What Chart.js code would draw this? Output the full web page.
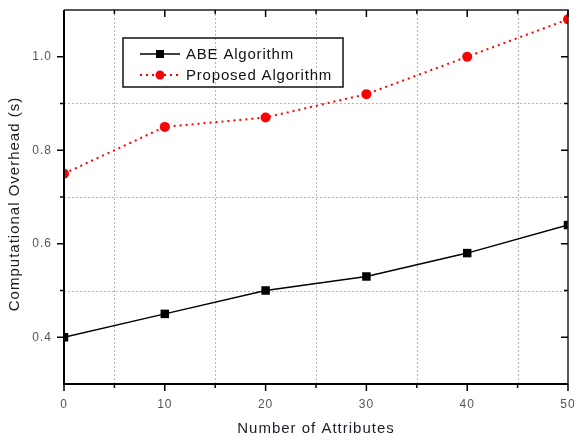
<!DOCTYPE html>
<html><head><meta charset="utf-8">
<script src="https://cdn.jsdelivr.net/npm/chart.js@4/dist/chart.umd.min.js"></script>
<style>html,body{margin:0;padding:0;background:#fff;}#wrap{width:574px;height:441px;}</style>
</head><body><div id="wrap"><canvas id="c" width="574" height="441"></canvas></div>
<script>
const attributes = [0, 10, 20, 30, 40, 50];
const abeValues = [0.40, 0.45, 0.50, 0.53, 0.58, 0.64];
const proposedValues = [0.75, 0.85, 0.87, 0.92, 1.00, 1.08];
const seriesNames = ['ABE Algorithm', 'Proposed Algorithm'];
const xTickLabels = ['0', '10', '20', '30', '40', '50'];
const yTickLabels = ['0.4', '0.6', '0.8', '1.0'];
const xTitle = 'Number of Attributes';
const yTitle = 'Computational Overhead (s)';

const FONT = 'Liberation Sans, Arial, sans-serif';

function setSpacing(ctx, v) { try { ctx.letterSpacing = v; } catch (e) {} }

const framePlugin = {
  id: 'frame',
  beforeDraw(chart) { setSpacing(chart.ctx, '1px'); },
  beforeDatasetsDraw(chart) {
    const {ctx, chartArea: a, scales: {x, y}} = chart;
    ctx.save();
    ctx.strokeStyle = '#b5b5b5';
    ctx.lineWidth = 1;
    ctx.setLineDash([2, 2]);
    x.ticks.forEach(t => {
      if (t.value % 10 !== 0) {
        const px = Math.round(x.getPixelForValue(t.value)) + 0.5;
        ctx.beginPath(); ctx.moveTo(px, a.top); ctx.lineTo(px, a.bottom); ctx.stroke();
      }
    });
    y.ticks.forEach(t => {
      const k = Math.round(t.value * 10);
      if (k % 2 === 1 && k > 3 && k < 11) {
        const py = Math.round(y.getPixelForValue(t.value)) + 0.5;
        ctx.beginPath(); ctx.moveTo(a.left, py); ctx.lineTo(a.right, py); ctx.stroke();
      }
    });
    ctx.restore();
  },
  afterDraw(chart) {
    const {ctx, chartArea: a, scales: {x, y}} = chart;
    ctx.save();
    ctx.setLineDash([]);
    ctx.strokeStyle = '#222';
    // frame
    ctx.lineWidth = 1.5;
    ctx.beginPath();
    ctx.moveTo(a.left, a.top); ctx.lineTo(a.right, a.top); ctx.lineTo(a.right, a.bottom);
    ctx.stroke();
    ctx.strokeStyle = '#000';
    ctx.lineWidth = 2;
    ctx.beginPath();
    ctx.moveTo(a.left, a.top); ctx.lineTo(a.left, a.bottom); ctx.lineTo(a.right, a.bottom);
    ctx.stroke();
    // ticks
    ctx.lineWidth = 1.5;
    x.ticks.forEach(t => {
      const px = x.getPixelForValue(t.value);
      const len = t.value % 10 === 0 ? 7 : 4;
      ctx.beginPath(); ctx.moveTo(px, a.bottom); ctx.lineTo(px, a.bottom + len); ctx.stroke();
      ctx.beginPath(); ctx.moveTo(px, a.top); ctx.lineTo(px, a.top + len); ctx.stroke();
    });
    y.ticks.forEach(t => {
      const k = Math.round(t.value * 10);
      if (k <= 3 || k >= 11) return;
      const py = y.getPixelForValue(t.value);
      const len = k % 2 === 0 ? 7 : 4;
      ctx.beginPath(); ctx.moveTo(a.left, py); ctx.lineTo(a.left - len, py); ctx.stroke();
      ctx.beginPath(); ctx.moveTo(a.right, py); ctx.lineTo(a.right - len, py); ctx.stroke();
    });
    // axis titles
    ctx.fillStyle = '#1c1c28';
    ctx.font = '15px ' + FONT;
    ctx.textAlign = 'center';
    ctx.textBaseline = 'middle';
    setSpacing(ctx, '1px');
    ctx.fillText(xTitle, (a.left + a.right) / 2, 429);
    ctx.save();
    ctx.translate(15, 204);
    ctx.rotate(-Math.PI / 2);
    ctx.fillText(yTitle, 0, 0);
    ctx.restore();
    // legend
    const lx = 123, ly = 38, lw = 220, lh = 49;
    ctx.lineWidth = 1.5;
    ctx.strokeStyle = '#111';
    ctx.strokeRect(lx, ly, lw, lh);
    const rows = [54, 75];
    chart.data.datasets.forEach((ds, i) => {
      const ry = rows[i];
      ctx.strokeStyle = ds.borderColor;
      ctx.lineWidth = ds.borderWidth;
      ctx.setLineDash(ds.borderDash || []);
      ctx.beginPath(); ctx.moveTo(140, ry); ctx.lineTo(180, ry); ctx.stroke();
      ctx.setLineDash([]);
      ctx.fillStyle = ds.pointBackgroundColor;
      if (ds.pointStyle === 'rect') {
        ctx.fillRect(160 - 4, ry - 4, 8, 8);
      } else {
        ctx.beginPath(); ctx.arc(160, ry, 4.5, 0, Math.PI * 2); ctx.fill();
      }
      ctx.fillStyle = '#111';
      ctx.font = '15px ' + FONT;
      ctx.textBaseline = 'middle';
      ctx.textAlign = 'left';
      setSpacing(ctx, '0.8px');
      ctx.fillText(ds.label, 186, ry + 1);
    });
    ctx.restore();
    setSpacing(ctx, '0px');
  }
};

new Chart(document.getElementById('c'), {
  type: 'line',
  data: {
    datasets: [
      {
        label: seriesNames[0],
        data: attributes.map((a, i) => ({x: a, y: abeValues[i]})),
        borderColor: '#000',
        borderWidth: 1.5,
        pointStyle: 'rect',
        pointRadius: 6,
        pointBackgroundColor: '#000',
        pointBorderColor: '#000',
        pointBorderWidth: 0,
        tension: 0
      },
      {
        label: seriesNames[1],
        data: attributes.map((a, i) => ({x: a, y: proposedValues[i]})),
        borderColor: '#ff0000',
        borderWidth: 2,
        borderDash: [2, 4],
        pointStyle: 'circle',
        pointRadius: 5,
        pointBackgroundColor: '#ff0000',
        pointBorderColor: '#ff0000',
        pointBorderWidth: 0,
        tension: 0
      }
    ]
  },
  options: {
    responsive: false,
    animation: false,
    events: [],
    layout: {padding: {left: 0, right: 6, top: 10, bottom: 0}},
    plugins: {legend: {display: false}, tooltip: {enabled: false}},
    scales: {
      x: {
        type: 'linear', min: 0, max: 50,
        afterFit: s => { s.height = 57; s.paddingLeft = 0; s.paddingRight = 0; },
        grid: {display: false, drawTicks: false},
        border: {display: false},
        ticks: {
          stepSize: 5, padding: 13, color: '#555', maxRotation: 0, autoSkip: false,
          font: {family: FONT, size: 12},
          callback: v => { const i = attributes.indexOf(v); return i >= 0 ? xTickLabels[i] : ''; }
        },
        title: {display: false}
      },
      y: {
        type: 'linear', min: 0.3, max: 1.1,
        afterFit: s => { s.width = 64; s.paddingTop = 0; s.paddingBottom = 0; },
        grid: {display: false, drawTicks: false},
        border: {display: false},
        ticks: {
          stepSize: 0.1, padding: 12, color: '#555', autoSkip: false,
          font: {family: FONT, size: 12},
          callback: v => { const k = Math.round(v * 10); return (k % 2 === 0 && k >= 4 && k <= 10) ? yTickLabels[(k - 4) / 2] : ''; }
        },
        title: {display: false}
      }
    }
  },
  plugins: [framePlugin]
});
</script></body></html>
